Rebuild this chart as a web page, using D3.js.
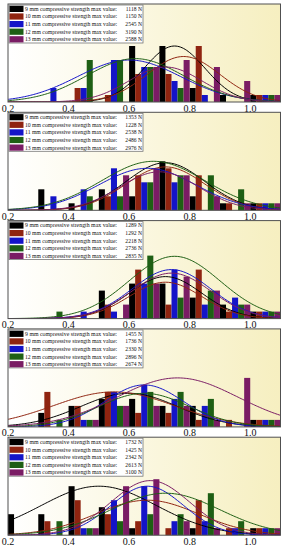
<!DOCTYPE html>
<html>
<head>
<meta charset="utf-8">
<script src="https://cdn.jsdelivr.net/npm/d3@7"></script>
<style>
    body { margin: 0; background: #fff; }
    svg { display: block; }
</style>
</head>
<body>
<svg id="chart" width="288" height="550"></svg>
<script>
// bins of normalised strength (value / max value), width 0.1
const binStarts = [0.2, 0.3, 0.4, 0.5, 0.6, 0.7, 0.8, 0.9, 1.0];
const sizes = ["9 mm", "10 mm", "11 mm", "12 mm", "13 mm"];
const xTicks = [0.2, 0.4, 0.6, 0.8, 1.0];

// max compressive strength (N), one row per panel, one value per size
const maxValues = [
    [1118, 1150, 2545, 3190, 2588],
    [1353, 1228, 2538, 2486, 2976],
    [1289, 1292, 2218, 2736, 2835],
    [1455, 1736, 2330, 2896, 2674],
    [1732, 1425, 2342, 2613, 3100]
];

// counts per bin, one row per size
const counts1 = [
    [0, 0, 0, 0, 8, 8, 2, 1, 1],
    [0, 0, 2, 1, 4, 4, 8, 0, 1],
    [0, 2, 2, 6, 5, 3, 1, 0, 1],
    [0, 0, 6, 6, 5, 2, 0, 0, 1],
    [0, 0, 0, 0, 5, 6, 5, 3, 1]
];
const counts2 = [
    [0, 3, 1, 3, 2, 7, 2, 1, 1],
    [0, 0, 0, 2, 5, 6, 5, 1, 1],
    [0, 2, 3, 6, 4, 4, 0, 0, 1],
    [0, 0, 2, 2, 4, 5, 5, 3, 1],
    [0, 0, 0, 5, 6, 5, 2, 1, 1]
];
const counts3 = [
    [0, 0, 0, 4, 5, 5, 3, 2, 1],
    [0, 0, 0, 2, 7, 2, 7, 1, 1],
    [0, 0, 1, 1, 5, 7, 2, 3, 1],
    [0, 1, 0, 0, 9, 3, 4, 2, 1],
    [0, 0, 0, 2, 5, 6, 4, 2, 1]
];
const counts4 = [
    [0, 2, 3, 4, 4, 3, 3, 0, 1],
    [0, 5, 3, 5, 2, 2, 1, 1, 1],
    [0, 0, 1, 5, 6, 4, 3, 0, 1],
    [0, 1, 1, 3, 5, 5, 4, 0, 1],
    [0, 0, 1, 3, 3, 3, 1, 7, 1]
];
const counts5 = [
    [3, 3, 7, 4, 1, 0, 1, 0, 1],
    [0, 2, 5, 3, 2, 1, 5, 1, 1],
    [0, 0, 1, 5, 7, 2, 2, 1, 1],
    [0, 2, 1, 2, 3, 3, 6, 2, 1],
    [0, 0, 1, 7, 8, 2, 1, 0, 1]
];

// fitted normal curves: mean, sd, peak height (counts)
const fitMean = [
    [0.75, 0.78, 0.60, 0.62, 0.72],
    [0.72, 0.72, 0.66, 0.68, 0.70],
    [0.72, 0.72, 0.74, 0.75, 0.74],
    [0.60, 0.55, 0.65, 0.65, 0.76],
    [0.50, 0.66, 0.66, 0.72, 0.67]
];
const fitSd = [
    [0.10, 0.12, 0.17, 0.16, 0.12],
    [0.13, 0.13, 0.16, 0.17, 0.13],
    [0.12, 0.12, 0.13, 0.15, 0.13],
    [0.16, 0.20, 0.13, 0.15, 0.20],
    [0.19, 0.17, 0.12, 0.18, 0.13]
];
const fitPeak = [
    [8.0, 6.5, 6.0, 6.2, 5.0],
    [6.8, 6.2, 6.0, 7.0, 5.5],
    [6.0, 5.2, 7.0, 8.9, 6.5],
    [4.8, 5.0, 6.0, 4.8, 7.0],
    [7.0, 5.0, 7.0, 6.0, 7.8]
];

const allCounts = [counts1, counts2, counts3, counts4, counts5];
const colours = ["#000000", "#8f2410", "#1414c8", "#1e5f14", "#7a1c64"];

const left = 8,
    right = 280.5,
    panelHeight = 98,
    panelStep = 108.3,
    firstTop = 4;

const svg = d3.select("#chart");

const defs = svg.append("defs");
const grad = defs.append("linearGradient")
    .attr("id", "bg")
    .attr("x1", "0%").attr("x2", "100%")
    .attr("y1", "0%").attr("y2", "0%");
grad.append("stop").attr("offset", "0%").attr("stop-color", "#ffffff");
grad.append("stop").attr("offset", "100%").attr("stop-color", "#f6efc0");

const x = d3.scaleLinear().domain([0.2, 1.1]).range([left, right]);
const y = d3.scaleLinear().domain([0, 14]).range([panelHeight, 0]);
const inner = d3.scaleBand().domain(d3.range(sizes.length)).range([0, x(0.3) - x(0.2)]);

const normal = (v, m, s, p) => p * Math.exp(-0.5 * ((v - m) / s) * ((v - m) / s));
const curveXs = d3.range(0.2, 1.1001, 0.005);

const line = d3.line()
    .x(d => x(d[0]))
    .y(d => y(d[1]))
    .curve(d3.curveBasis);

const serif = "Liberation Serif, Times New Roman, serif";

allCounts.forEach(function (counts, p) {
    const top = firstTop + p * panelStep;
    const g = svg.append("g").attr("transform", "translate(0," + top + ")");

    defs.append("clipPath").attr("id", "clip" + p)
        .append("rect")
        .attr("x", left).attr("y", 0)
        .attr("width", right - left).attr("height", panelHeight);

    g.append("rect")
        .attr("x", left).attr("y", 0)
        .attr("width", right - left).attr("height", panelHeight)
        .attr("fill", "url(#bg)");

    // bars
    let bars = [];
    counts.forEach(function (row, s) {
        row.forEach(function (c, b) {
            if (c > 0) bars.push({s: s, start: binStarts[b], c: c});
        });
    });

    g.append("g")
        .selectAll("rect")
        .data(bars)
        .join("rect")
        .attr("x", d => x(d.start) + inner(d.s))
        .attr("width", inner.bandwidth())
        .attr("y", d => y(d.c))
        .attr("height", d => y(0) - y(d.c))
        .attr("fill", d => colours[d.s]);

    // fitted curves
    g.append("g")
        .attr("clip-path", "url(#clip" + p + ")")
        .attr("fill", "none")
        .attr("stroke-width", 1)
        .selectAll("path")
        .data(sizes.map((n, s) => s))
        .join("path")
        .attr("stroke", s => colours[s])
        .attr("d", s => line(curveXs.map(v => [v, normal(v, fitMean[p][s], fitSd[p][s], fitPeak[p][s])])));

    // frame
    g.append("rect")
        .attr("x", left).attr("y", 0)
        .attr("width", right - left).attr("height", panelHeight)
        .attr("fill", "none")
        .attr("stroke", "#505050")
        .attr("stroke-width", 1);

    // legend
    const leg = g.append("g").attr("transform", "translate(" + (left + 1) + ",1)");
    leg.append("rect")
        .attr("x", 0).attr("y", 0)
        .attr("width", 134).attr("height", 38)
        .attr("fill", "#ffffff")
        .attr("stroke", "#777")
        .attr("stroke-width", 0.8);

    const rowH = 7.6;
    const items = leg.selectAll("g.item")
        .data(sizes)
        .join("g")
        .attr("class", "item")
        .attr("transform", (d, i) => "translate(0," + (i * rowH) + ")");

    items.append("rect")
        .attr("x", 0.5).attr("y", 0.8)
        .attr("width", 14).attr("height", rowH - 1.4)
        .attr("fill", (d, i) => colours[i]);

    items.append("text")
        .attr("x", 16)
        .attr("y", 5.9)
        .attr("font-family", serif)
        .attr("font-size", 5.6)
        .attr("fill", "#111")
        .attr("textLength", 92)
        .attr("lengthAdjust", "spacingAndGlyphs")
        .text(d => d + " compressive strength max value:");

    items.append("text")
        .attr("x", 133)
        .attr("y", 5.9)
        .attr("text-anchor", "end")
        .attr("font-family", serif)
        .attr("font-size", 5.6)
        .attr("fill", "#111")
        .text((d, i) => maxValues[p][i] + " N");

    // x tick labels
    g.append("g")
        .selectAll("text")
        .data(xTicks)
        .join("text")
        .attr("x", d => x(d))
        .attr("y", panelHeight + 9.5)
        .attr("text-anchor", "middle")
        .attr("font-family", serif)
        .attr("font-size", 10)
        .attr("fill", "#111")
        .text(d => d.toFixed(1));
});
</script>
</body>
</html>
